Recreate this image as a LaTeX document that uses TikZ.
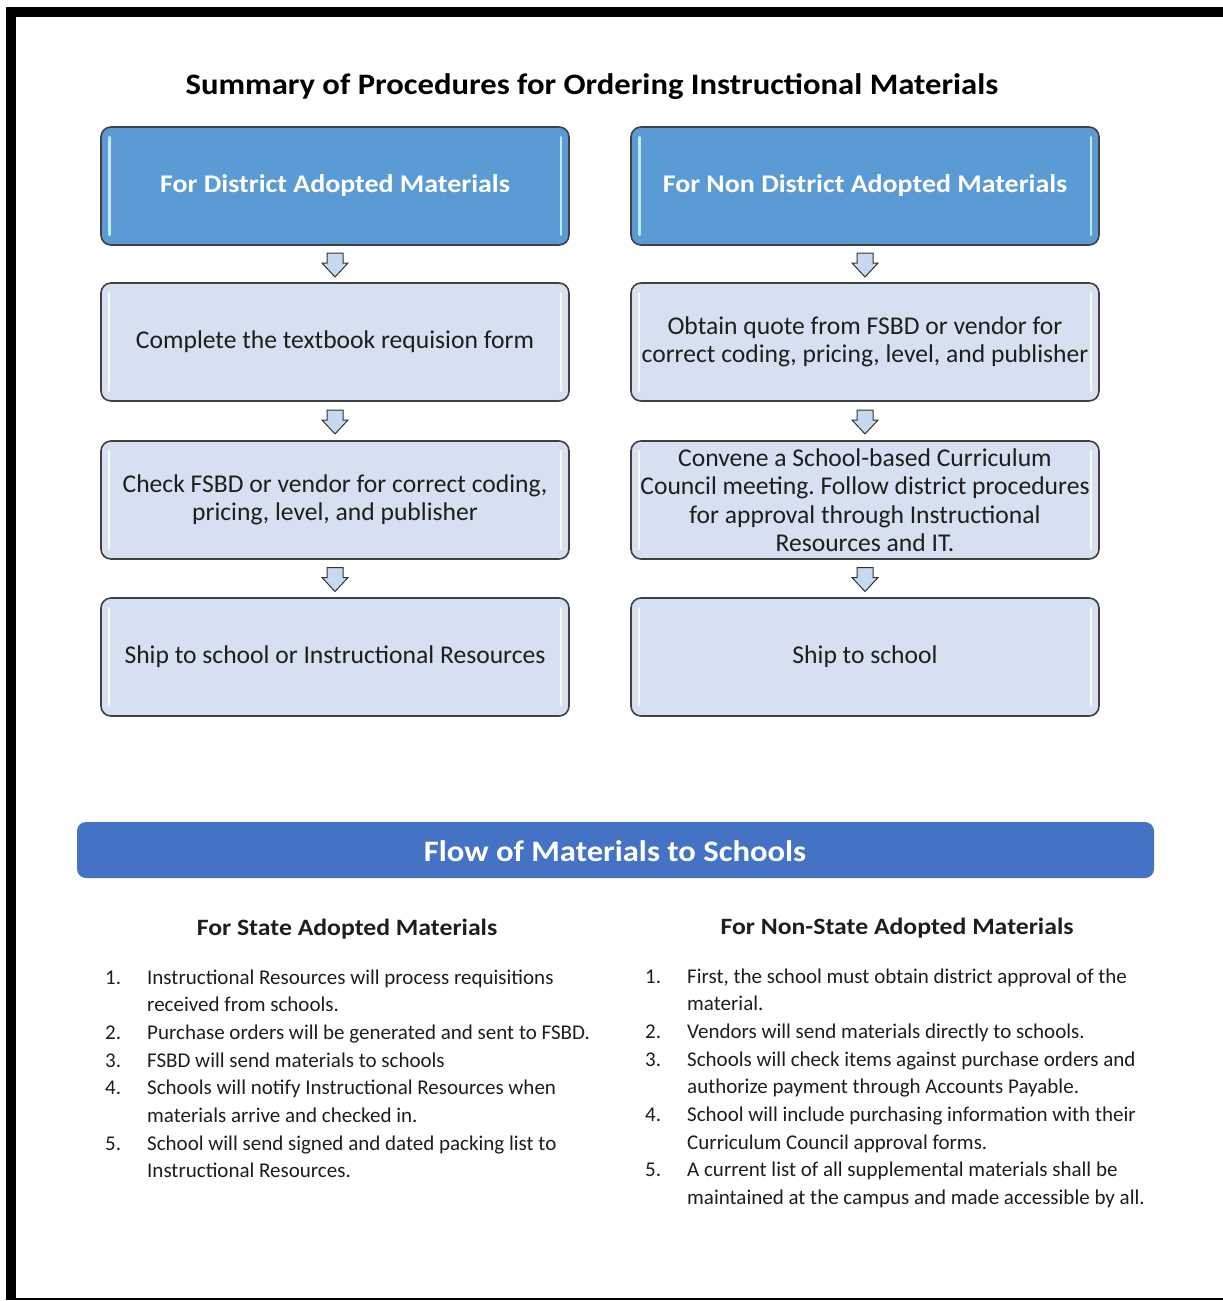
\documentclass[tikz,border=0pt]{standalone}
\usepackage{fontspec}
\setmainfont{Carlito}[BoldFeatures={FakeStretch=1.1}]
\usetikzlibrary{calc}
\frenchspacing

\definecolor{headblue}{HTML}{5B9BD5}
\definecolor{stepfill}{HTML}{D7E0F0}
\definecolor{arrowfill}{HTML}{C5D9F1}
\definecolor{bannerblue}{HTML}{4472C4}
\definecolor{edgegray}{HTML}{404040}
\definecolor{inkgray}{HTML}{1E1E1E}
\definecolor{headglint}{HTML}{C4EAFF}

\tikzset{
  stepbox/.style={draw=edgegray, line width=1.6pt, rounded corners=10pt, fill=stepfill,
    minimum width=468pt, minimum height=118pt, align=center, text=inkgray,
    font=\fontsize{25.6}{28.5}\selectfont},
  headbox/.style={stepbox, fill=headblue, text=white, font=\bfseries\fontsize{25.4}{30}\selectfont},
  glint/.style={line width=2.4pt, line cap=round, white!85!stepfill},
  headline/.style={line width=2.6pt, line cap=round, headglint},
  blockarrow/.style={draw=black!80, fill=arrowfill, line width=1pt, line join=miter},
  subhead/.style={text=inkgray, font=\bfseries\fontsize{23.4}{27}\selectfont},
  steplist/.style={anchor=base west, inner sep=0pt, text=inkgray, font=\fontsize{21}{27.7}\selectfont}
}

% small block arrow pointing down, centred on a coordinate
\newcommand{\downarrowat}[1]{%
  \draw[blockarrow] (#1) ++(-8,-11) -- ++(16,0) -- ++(0,10) -- ++(5,0) -- ++(-13,14)
    -- ++(-13,-14) -- ++(5,0) -- cycle;}

\begin{document}
\begin{tikzpicture}[x=1pt,y=-1pt]
  \useasboundingbox (0,0) rectangle (1223,1301);
  \fill[white] (0,0) rectangle (1223,1301);

  % frame
  \fill[black] (6,7) rectangle (1223,17);
  \fill[black] (6,7) rectangle (16,1300);
  \fill[black] (6,1297.5) rectangle (1223,1300);

  \node[text=black, font=\bfseries\fontsize{29.7}{34}\selectfont] (title) at (592,87)
    {Summary of Procedures for Ordering Instructional Materials};

  % district adopted column
  \node[headbox] (dhead) at (335,186) {For District Adopted Materials};
  \node[stepbox] (dform) at (335,342) {Complete the textbook requision form};
  \node[stepbox] (dcheck) at (335,500) {Check FSBD or vendor for correct coding,\\ pricing, level, and publisher};
  \node[stepbox] (dship) at (335,657) {Ship to school or Instructional Resources};

  % non district adopted column
  \node[headbox] (nhead) at (865,186) {For Non District Adopted Materials};
  \node[stepbox] (nquote) at (865,342) {Obtain quote from FSBD or vendor for\\ correct coding, pricing, level, and publisher};
  \node[stepbox] (nmeet) at (865,500) {Convene a School-based Curriculum\\ Council meeting. Follow district procedures\\ for approval through Instructional\\ Resources and IT.};
  \node[stepbox] (nship) at (865,657) {Ship to school};

  \foreach \b in {dhead,nhead}{
    \draw[headline] ([shift={(9,11)}]\b.north west) -- ([shift={(9,-11)}]\b.south west);
    \draw[headline] ([shift={(-9,11)}]\b.north east) -- ([shift={(-9,-11)}]\b.south east);
  }
  \foreach \b in {dform,dcheck,dship,nquote,nmeet,nship}{
    \draw[glint] ([shift={(9,11)}]\b.north west) -- ([shift={(9,-11)}]\b.south west);
    \draw[glint] ([shift={(-9,11)}]\b.north east) -- ([shift={(-9,-11)}]\b.south east);
  }

  % arrows between the steps
  \coordinate (da1) at ($(dhead.south)!0.5!(dform.north)$);
  \coordinate (da2) at ($(dform.south)!0.5!(dcheck.north)$);
  \coordinate (da3) at ($(dcheck.south)!0.5!(dship.north)$);
  \coordinate (na1) at ($(nhead.south)!0.5!(nquote.north)$);
  \coordinate (na2) at ($(nquote.south)!0.5!(nmeet.north)$);
  \coordinate (na3) at ($(nmeet.south)!0.5!(nship.north)$);
  \downarrowat{da1}
  \downarrowat{da2}
  \downarrowat{da3}
  \downarrowat{na1}
  \downarrowat{na2}
  \downarrowat{na3}

  % flow banner
  \node[fill=bannerblue, rounded corners=9pt, minimum width=1077pt, minimum height=56pt,
    inner sep=0pt] (banner) at (615.5,850) {};
  \node[text=white, font=\bfseries\fontsize{29.7}{34}\selectfont] (bannertext) at (615,851)
    {Flow of Materials to Schools};

  \node[subhead] (statehead) at (347,929) {For State Adopted Materials};
  \node[subhead] (nonstatehead) at (897,928) {For Non-State Adopted Materials};

  \node[steplist] (statelist) at (105,984) {%
    \begin{tabular}[t]{@{}p{42pt}@{}l@{}}
    1. & Instructional Resources will process requisitions\\
       & received from schools.\\
    2. & Purchase orders will be generated and sent to FSBD.\\
    3. & FSBD will send materials to schools\\
    4. & Schools will notify Instructional Resources when\\
       & materials arrive and checked in.\\
    5. & School will send signed and dated packing list to\\
       & Instructional Resources.
    \end{tabular}};

  \node[steplist] (nonstatelist) at (645,983) {%
    \begin{tabular}[t]{@{}p{42pt}@{}l@{}}
    1. & First, the school must obtain district approval of the\\
       & material.\\
    2. & Vendors will send materials directly to schools.\\
    3. & Schools will check items against purchase orders and\\
       & authorize payment through Accounts Payable.\\
    4. & School will include purchasing information with their\\
       & Curriculum Council approval forms.\\
    5. & A current list of all supplemental materials shall be\\
       & maintained at the campus and made accessible by all.
    \end{tabular}};
\end{tikzpicture}
\end{document}
